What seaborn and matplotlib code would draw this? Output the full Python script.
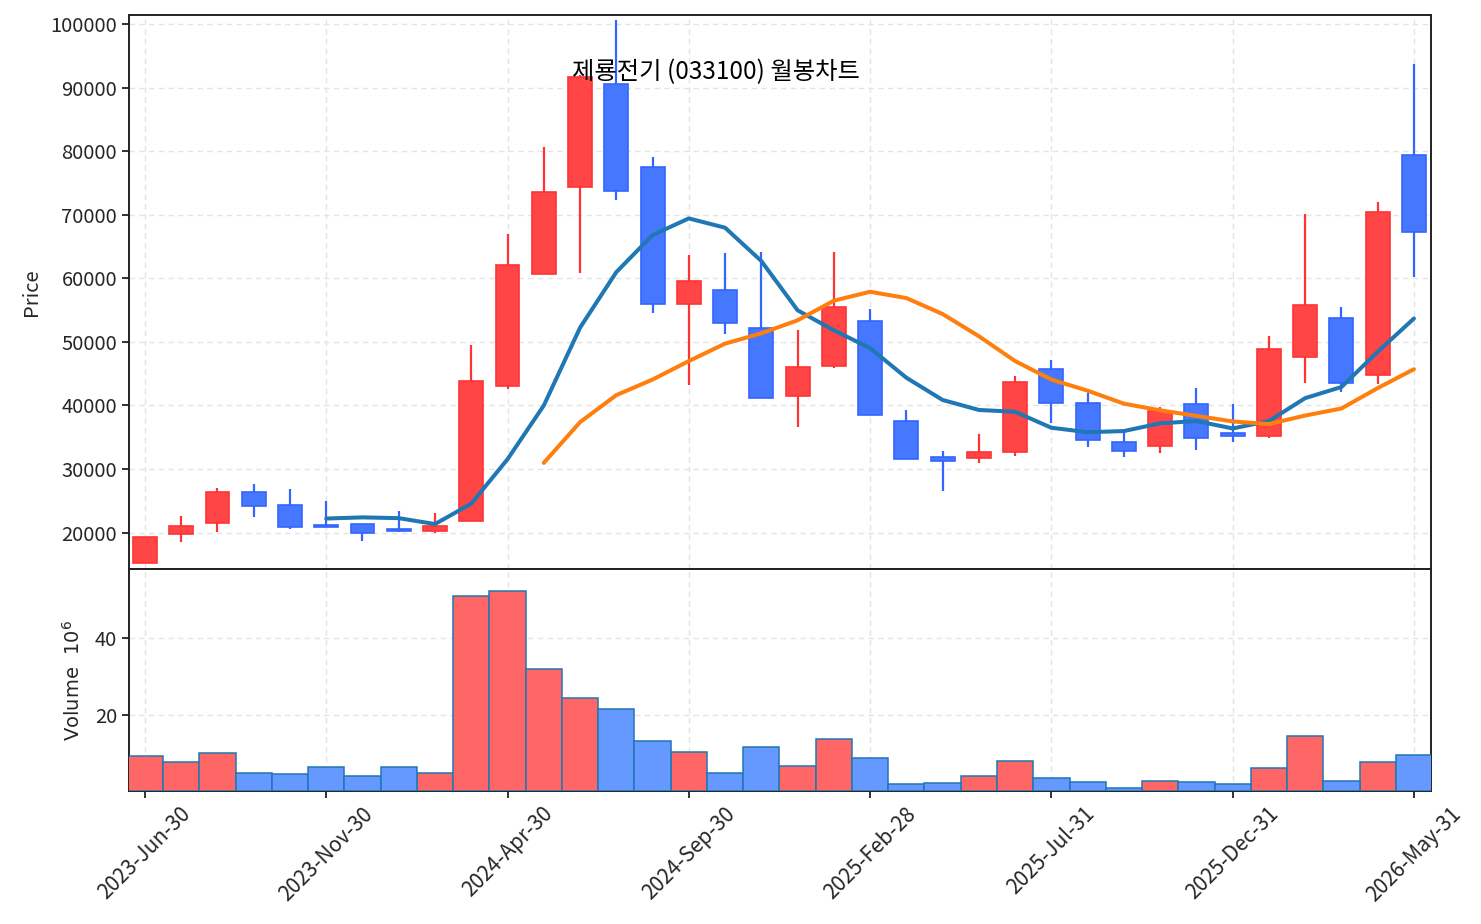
import numpy as np
import pandas as pd
import matplotlib
matplotlib.use("Agg")
import matplotlib.pyplot as plt
import seaborn as sns

# ---------------- data ----------------
dates = ["2023-Jun-30", "2023-Jul-31", "2023-Aug-31", "2023-Sep-30", "2023-Oct-31", "2023-Nov-30",
         "2023-Dec-31", "2024-Jan-31", "2024-Feb-29", "2024-Mar-31", "2024-Apr-30", "2024-May-31",
         "2024-Jun-30", "2024-Jul-31", "2024-Aug-31", "2024-Sep-30", "2024-Oct-31", "2024-Nov-30",
         "2024-Dec-31", "2025-Jan-31", "2025-Feb-28", "2025-Mar-31", "2025-Apr-30", "2025-May-31",
         "2025-Jun-30", "2025-Jul-31", "2025-Aug-31", "2025-Sep-30", "2025-Oct-31", "2025-Nov-30",
         "2025-Dec-31", "2026-Jan-31", "2026-Feb-28", "2026-Mar-31", "2026-Apr-30", "2026-May-31"]

opens = [15200, 19700, 21500, 26400, 24300, 21050, 21340, 20450, 20290, 21750, 43080, 60680,
         74370, 90510, 77460, 56010, 58230, 52230, 41560, 46280, 53280, 37540, 31890, 31770,
         32700, 45700, 40400, 34280, 33580, 40280, 35730, 35210, 47680, 53800, 44830, 79440]
highs = [19350, 22680, 26990, 27690, 26880, 25010, 21340, 23380, 23090, 49430, 66910, 80660,
         92000, 100600, 79150, 63650, 63940, 64110, 51820, 64110, 55140, 39350, 32880, 35560,
         44650, 47100, 42030, 36200, 39810, 42670, 40160, 51000, 70060, 55430, 71980, 93720]
lows = [15200, 18540, 20060, 22390, 20580, 20800, 18600, 20050, 19880, 21750, 42610, 60680,
        60850, 72330, 54560, 43190, 51240, 41100, 36670, 45820, 38420, 31650, 26530, 30960,
        32060, 37190, 33460, 31890, 32470, 32940, 34220, 34860, 43540, 42140, 43370, 60210]
closes = [19350, 21050, 26410, 24200, 20930, 20900, 19880, 20250, 21050, 43780, 62130, 73500,
          91680, 73670, 56010, 59630, 52930, 41100, 46110, 55550, 38420, 31650, 31190, 32650,
          43720, 40450, 34570, 32880, 39110, 34920, 35150, 48900, 55840, 43480, 70470, 67260]
volumes = [9.2, 7.7, 10.0, 4.8, 4.5, 6.3, 3.9, 6.3, 4.7, 51.0, 52.5, 31.9,
           24.3, 21.6, 13.1, 10.2, 4.8, 11.6, 6.6, 13.7, 8.7, 1.9, 2.2, 3.9,
           7.9, 3.4, 2.3, 0.8, 2.6, 2.4, 1.9, 6.0, 14.4, 2.6, 7.6, 9.5]  # x 10^6

nan = np.nan
ma_short = [nan, nan, nan, nan, nan, 22210, 22390, 22270, 21340, 24550, 31540, 39990,
            52230, 60970, 66800, 69420, 67960, 62720, 54970, 51820, 49020, 44360, 40860, 39290,
            39000, 36490, 35790, 35970, 37190, 37540, 36380, 37540, 41150, 42900, 48440, 53680]
ma_long = [nan, nan, nan, nan, nan, nan, nan, nan, nan, nan, nan, 30960,
           37370, 41620, 44070, 46980, 49720, 51350, 53390, 56480, 57880, 56890, 54380, 50890,
           46980, 44070, 42320, 40280, 39230, 38360, 37480, 37070, 38410, 39520, 42730, 45700]

title = "제룡전기 (033100) 월봉차트"
price_ticks = [20000, 30000, 40000, 50000, 60000, 70000, 80000, 90000, 100000]
volume_ticks = [20, 40]

# ---------------- styling ----------------
sns.set_theme(style="white")
plt.rcParams['font.family'] = ['Noto Sans CJK KR', 'DejaVu Sans']
plt.rcParams['axes.unicode_minus'] = False

UP_BODY, UP_EDGE = "#ff4545", "#ff3333"
DN_BODY, DN_EDGE = "#4577ff", "#3366ff"
VOL_UP, VOL_DN, VOL_EDGE = "#ff6666", "#6699ff", "#1f77b4"
GRID = "#e4e4e4"

W, H = 1481, 924
fig = plt.figure(figsize=(W / 100, H / 100), dpi=100)
left, right = 129 / W, 1431 / W
top, mid, bottom = 1 - 15 / H, 1 - 569 / H, 1 - 791 / H
ax = fig.add_axes([left, mid, right - left, top - mid])
axv = fig.add_axes([left, bottom, right - left, mid - bottom], sharex=ax)

n = len(dates)
idx = np.arange(n)
o = np.array(opens, float); c = np.array(closes, float)
hi = np.array(highs, float); lo = np.array(lows, float)
up = c >= o

# ---------------- candles ----------------
body_w = 0.66
ax.vlines(idx[up], lo[up], hi[up], color=UP_EDGE, lw=1.6, zorder=2)
ax.vlines(idx[~up], lo[~up], hi[~up], color=DN_EDGE, lw=1.6, zorder=2)
bot = np.minimum(o, c)
hgt = np.maximum(np.abs(c - o), 300)
ax.bar(idx[up], hgt[up], bottom=bot[up], width=body_w, color=UP_BODY,
       edgecolor=UP_EDGE, linewidth=1.2, zorder=3)
ax.bar(idx[~up], hgt[~up], bottom=bot[~up], width=body_w, color=DN_BODY,
       edgecolor=DN_EDGE, linewidth=1.2, zorder=3)

# ---------------- moving averages ----------------
ma_df = pd.DataFrame({"x": idx, "short": ma_short, "long": ma_long})
sns.lineplot(data=ma_df, x="x", y="short", color="#1f77b4", lw=2.9, ax=ax, zorder=4)
sns.lineplot(data=ma_df, x="x", y="long", color="#ff7f0e", lw=2.9, ax=ax, zorder=4)

# ---------------- volume ----------------
vol_df = pd.DataFrame({"x": idx, "vol": volumes,
                       "dir": np.where(up, "up", "down")})
sns.barplot(data=vol_df, x="x", y="vol", hue="dir", palette={"up": VOL_UP, "down": VOL_DN},
            native_scale=True, width=1.0, dodge=False, saturation=1.0,
            edgecolor=VOL_EDGE, linewidth=1.1,
            legend=False, errorbar=None, ax=axv, zorder=3)

# ---------------- axes ----------------
xt = idx[::5]
for a in (ax, axv):
    a.set_xlim(-0.44, 35.47)
    a.grid(True, color=GRID, linestyle=(0, (4, 3)), linewidth=1.0, zorder=0)
    a.set_axisbelow(True)
    for s in a.spines.values():
        s.set_color("#222222")
        s.set_linewidth(1.4)
    a.tick_params(axis="both", direction="out", length=5, width=1.3, color="#222222",
                  labelsize=14.5, left=True, bottom=True)
    a.set_xticks(xt)

ax.set_ylim(14270, 101420)
ax.set_yticks(price_ticks)
ax.set_yticklabels([str(v) for v in price_ticks])
ax.tick_params(axis="x", labelbottom=False)
ax.set_ylabel("Price", fontsize=14.5, labelpad=6)
ax.set_xlabel("")

axv.set_ylim(0, 58.2)
axv.set_yticks(volume_ticks)
axv.set_yticklabels([str(v) for v in volume_ticks])
axv.set_xticklabels([dates[i] for i in xt], rotation=45, ha="center", fontsize=15)
axv.set_ylabel(r"Volume  $10^{6}$", fontsize=14, family="DejaVu Sans", labelpad=8)
axv.set_xlabel("")

fig.text(716 / W, 1 - 72 / H, title, ha="center", va="center", fontsize=17.5, color="black")

fig.savefig("out.png", dpi=100)
